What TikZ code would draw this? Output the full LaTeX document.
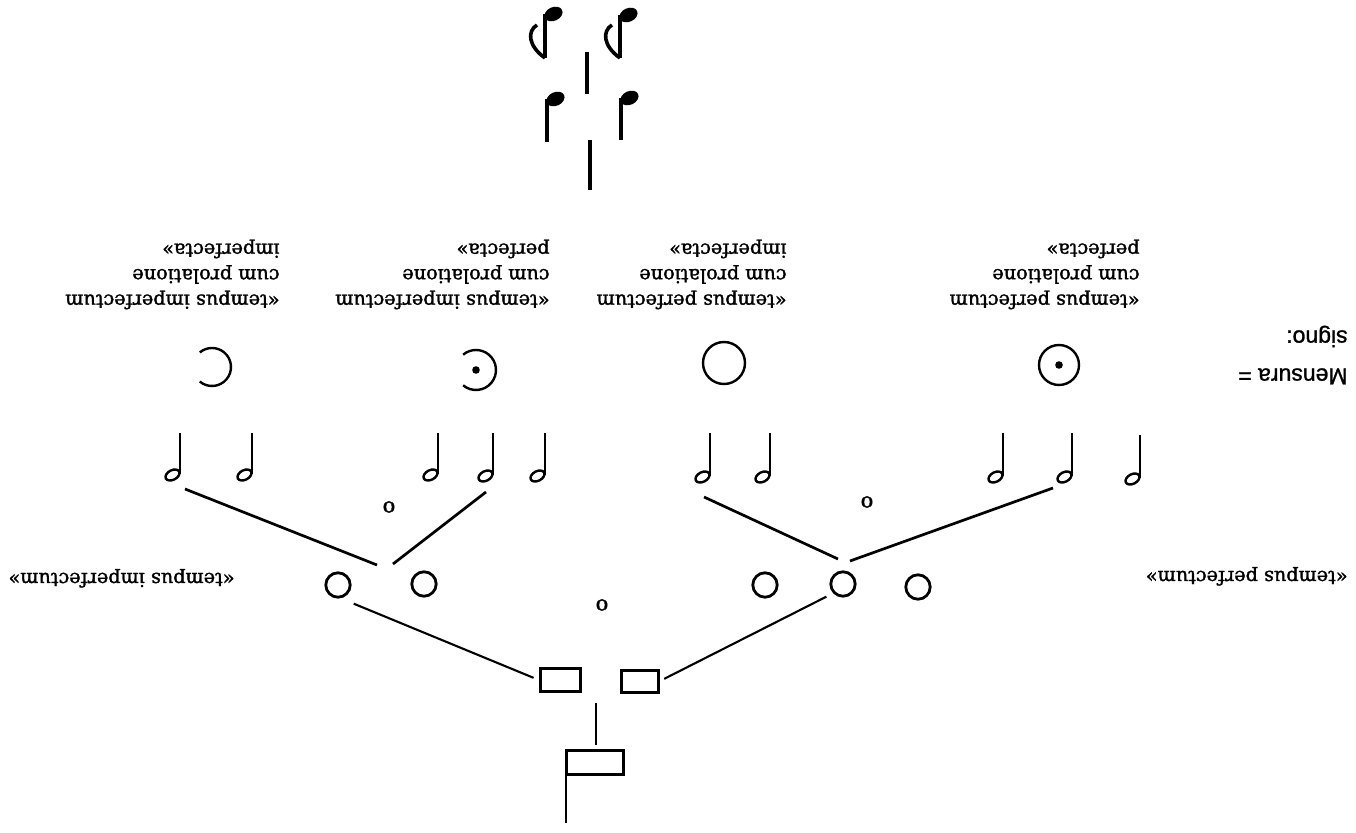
\documentclass[tikz,border=0pt]{standalone}
\usepackage{fontspec}
\setmainfont{DejaVu Serif}
\newfontfamily\capfont{DejaVu Serif}[RawFeature={embolden=1.6}]
\newfontfamily\labelsans{Liberation Sans}[RawFeature={embolden=1.2}]

\tikzset{
  link/.style={line width=1.35pt},
  thinlink/.style={line width=1.05pt},
  stemline/.style={line width=1.05pt},
  heavystem/.style={line width=1.8pt},
  semibreve/.style={circle, draw, line width=1.4pt, minimum size=12.2pt, inner sep=0pt, outer sep=0pt},
  breve/.style={rectangle, draw, line width=1.5pt, inner sep=0pt, outer sep=0pt},
  mens/.style={circle, draw, line width=1.2pt, minimum size=20pt, inner sep=0pt, outer sep=0pt},
  mensarc/.style={line width=1.2pt},
  hollowhead/.style={line width=1.2pt},
  caption/.style={rotate=180, anchor=west, align=left, inner sep=0pt,
    font=\capfont\fontsize{9.6}{12.75}\selectfont},
  tag/.style={rotate=180, anchor=base west, inner sep=0pt,
    font=\capfont\fontsize{9.6}{12}\selectfont},
  smallo/.style={inner sep=0pt, font=\capfont\fontsize{10.5}{12}\selectfont},
}

% hollow minim: name, stem x, stem top y, head centre y
\newcommand\minimnote[4]{%
  \coordinate (#1) at ({#2-7.5},#4);
  \draw[stemline] (#2,#3) -- (#2,{#4-1});
  \draw[hollowhead, rotate around={28:(#1)}] (#1) ellipse [x radius=7.5, y radius=4.8];
}
% filled note head with stem: name, stem x, head centre y, stem foot y
\newcommand\blacknote[4]{%
  \coordinate (#1) at ({#2+8.5},#3);
  \fill[rotate around={25:(#1)}] (#1) ellipse [x radius=9.5, y radius=6.8];
  \draw[heavystem] (#2,#3) -- (#2,#4);
}

\begin{document}
\begin{tikzpicture}[x=0.5pt, y=-0.5pt]
\useasboundingbox (0,0) rectangle (1356,833);
\fill[white] (0,0) rectangle (1356,833);

% ---- longa and the two breves ----
\node[breve, minimum width=28.5pt, minimum height=12pt] (longa) at (594.5,763) {};
\coordinate (longatail) at (566,823);
\draw[link] (longa.north west) -- (longa.north west |- longatail);
\node[breve, minimum width=20pt, minimum height=11.5pt] (brL) at (560,680.5) {};
\node[breve, minimum width=18.5pt, minimum height=11pt] (brR) at (639.5,682) {};
\coordinate (brSplit) at (596,681);
\draw[link, shorten <=3pt, shorten >=11pt] (longa.north -| brSplit) -- (brSplit);

% ---- semibreves ----
\node[semibreve] (sL1) at (338,585) {};
\node[semibreve] (sL2) at (424,584) {};
\node[semibreve] (sR1) at (765,585) {};
\node[semibreve] (sR2) at (843,584) {};
\node[semibreve] (sR3) at (918,587) {};

\draw[thinlink, shorten <=3.5pt, shorten >=8.5pt] (brL.west) -- (sL1.south);
\draw[thinlink, shorten <=3.5pt, shorten >=4.5pt] (brR.east) -- (sR2.south west);

% ---- minims ----
\minimnote{mA1}{180}{433}{475}
\minimnote{mA2}{252}{433}{475}
\minimnote{mB1}{438}{433}{475}
\minimnote{mB2}{493}{433}{476}
\minimnote{mB3}{545}{433}{476}
\minimnote{mC1}{710}{433}{477}
\minimnote{mC2}{770}{433}{477}
\minimnote{mD1}{1003}{433}{477}
\minimnote{mD2}{1072}{433}{477}
\minimnote{mD3}{1140}{435}{479}

% divisions of the semibreves into minims
\coordinate (jL1a) at (377,565); \coordinate (jL1b) at (185,489);
\coordinate (jL2a) at (393,564); \coordinate (jL2b) at (486,492);
\coordinate (jR1a) at (838,559); \coordinate (jR1b) at (704,497);
\coordinate (jR2a) at (850,561); \coordinate (jR2b) at (1053,488);
\draw[link] (jL1a) -- (jL1b);
\draw[link] (jL2a) -- (jL2b);
\draw[link] (jR1a) -- (jR1b);
\draw[link] (jR2a) -- (jR2b);

% small o marks
\node[smallo] (o1) at (389,507) {o};
\node[smallo] (o2) at (867,502) {o};
\node[smallo] (o3) at (602,605) {o};

% ---- side labels ----
\node[tag] (tperf) at (1348,571) {«tempus perfectum»};
\node[tag] (timperf) at (235,573) {«tempus imperfectum»};

% ---- mensuration signs ----
\node[mens] (sig1) at (1059,365) {};
\fill (sig1) circle[radius=3.8];
\node[mens, minimum size=21pt] (sig2) at (724,363) {};
\coordinate (sig3) at (476,370);
\draw[mensarc] (sig3) ++(130:20) arc[start angle=130, end angle=-130, radius=20];
\fill (sig3) circle[radius=3.8];
\coordinate (sig4) at (212,367);
\draw[mensarc] (sig4) ++(130:19) arc[start angle=130, end angle=-130, radius=19];

\node[rotate=180, anchor=west, align=left, inner sep=0pt,
      font=\labelsans\fontsize{11.5}{19}\selectfont] (mensura) at (1348,355) {Mensura =\\signo:};

\node[caption] (t1) at (1140,274.5) {«tempus perfectum\\cum prolatione\\perfecta»};
\node[caption] (t2) at (787,274.5) {«tempus perfectum\\cum prolatione\\imperfecta»};
\node[caption] (t3) at (550,274.5) {«tempus imperfectum\\cum prolatione\\perfecta»};
\node[caption] (t4) at (280,274.5) {«tempus imperfectum\\cum prolatione\\imperfecta»};

% ---- semiminims and fusae ----
\blacknote{qA}{547}{99}{142}
\blacknote{qB}{621}{98}{140}
\blacknote{fA}{545}{14}{58}
\blacknote{fB}{620}{15}{58}
\draw[heavystem] (545,58) .. controls (528,46) and (527,31) .. (537,25);
\draw[heavystem] (620,58) .. controls (603,46) and (602,31) .. (612,25);
\coordinate (barAtop) at (587,52); \coordinate (barAbot) at (587,94);
\coordinate (barBtop) at (590,140); \coordinate (barBbot) at (590,190);
\draw[heavystem] (barAtop) -- (barAbot);
\draw[heavystem] (barBtop) -- (barBbot);
\end{tikzpicture}
\end{document}
